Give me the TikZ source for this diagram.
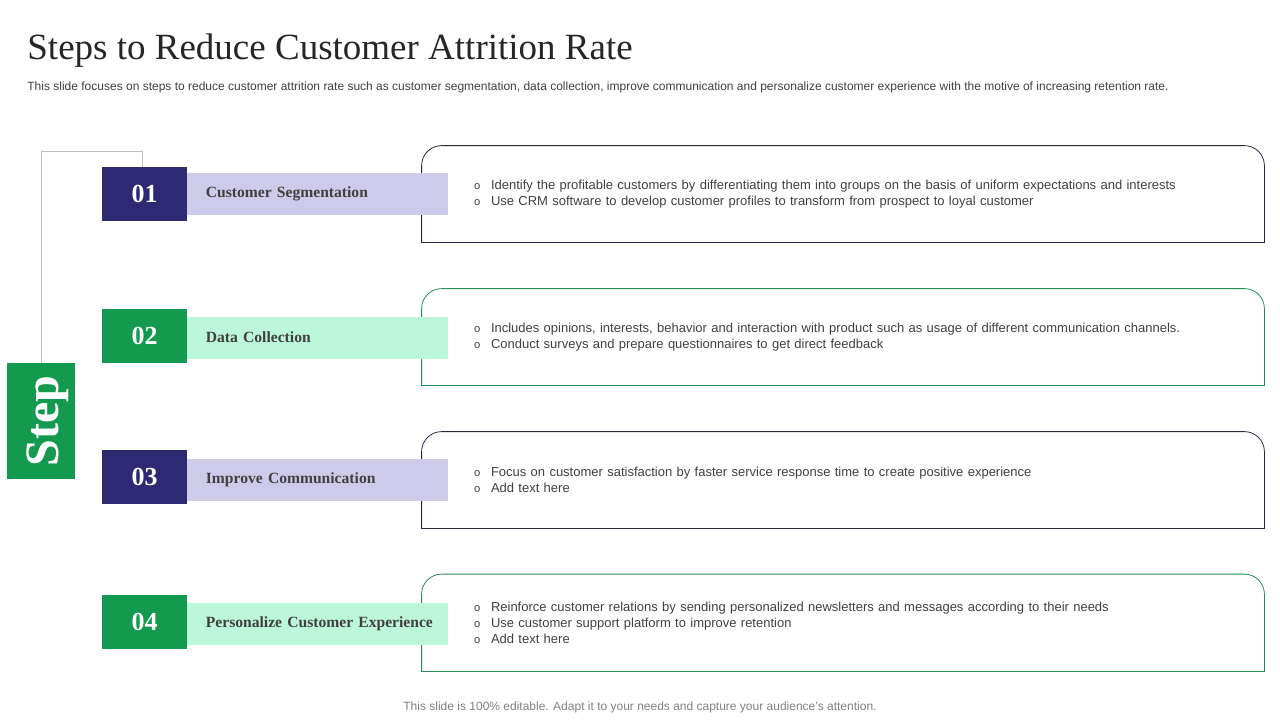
\documentclass[tikz,border=0pt]{standalone}
\usepackage{fontspec}
\setmainfont{Liberation Serif}
\setsansfont{Liberation Sans}
\definecolor{navy}{RGB}{46,41,115}
\definecolor{stepgreen}{RGB}{20,154,78}
\definecolor{lavender}{RGB}{205,202,234}
\definecolor{mint}{RGB}{189,247,217}
\definecolor{darktext}{RGB}{64,64,64}
\definecolor{navyline}{RGB}{40,38,70}
\definecolor{greenline}{RGB}{38,140,90}
\newcommand{\bul}{\makebox[8.5pt][l]{\fontsize{5.6}{5.6}\selectfont o}}

\begin{document}
\begin{tikzpicture}[x=0.5pt,y=-0.5pt,
	num/.style={minimum width=42.5pt, minimum height=27pt, inner sep=0pt, text=white, font=\fontsize{13}{13}\selectfont\bfseries},
	bar/.style={anchor=west, minimum height=21pt, inner xsep=9.25pt, inner ysep=0pt, text width=112pt, align=left, text=darktext, font=\fontsize{7.8}{9}\selectfont\bfseries},
	card/.style={minimum width=421pt, minimum height=48pt, inner xsep=26pt, inner ysep=0pt, text width=369pt, align=left, text=darktext, font=\sffamily\fontsize{6.5}{8}\selectfont},
	]
	\useasboundingbox (0,0) rectangle (1280,720);
	
	\node[anchor=base west, inner sep=0pt, text=black!85, font=\fontsize{18.5}{20}\selectfont] at (27,59) (title) {Steps to Reduce Customer Attrition Rate};
	\node[anchor=base west, inner sep=0pt, text=darktext, font=\sffamily\fontsize{6}{6}\selectfont] at (27,90) (subtitle) {This slide focuses on steps to reduce customer attrition rate such as customer segmentation, data collection, improve communication and personalize customer experience with the motive of increasing retention rate.};
	
	\node[fill=stepgreen, minimum width=34pt, minimum height=58pt, inner sep=0pt, text=white, font=\fontsize{24}{24}\selectfont\bfseries] at (41,421) (step) {\hspace*{7pt}\rotatebox{90}{Step}};
	
	\node[card] at (843,194) (card1) {\bul Identify the profitable customers by differentiating them into groups on the basis of uniform expectations and interests\\ \bul Use CRM software to develop customer profiles to transform from prospect to loyal customer};
	\node[card] at (843,337) (card2) {\bul Includes opinions, interests, behavior and interaction with product such as usage of different communication channels.\\ \bul Conduct surveys and prepare questionnaires to get direct feedback};
	\node[card] at (843,480) (card3) {\bul Focus on customer satisfaction by faster service response time to create positive experience\\ \bul Add text here};
	\node[card] at (843,622.5) (card4) {\bul Reinforce customer relations by sending personalized newsletters and messages according to their needs\\ \bul Use customer support platform to improve retention\\ \bul Add text here};
	
	\draw[navyline, rounded corners=10pt] (card1.south west) -- (card1.north west) -- (card1.north east) -- (card1.south east);
	\draw[navyline, line cap=rect] (card1.south west) -- (card1.south east);
	\draw[greenline, rounded corners=10pt] (card2.south west) -- (card2.north west) -- (card2.north east) -- (card2.south east);
	\draw[greenline, line cap=rect] (card2.south west) -- (card2.south east);
	\draw[navyline, rounded corners=10pt] (card3.south west) -- (card3.north west) -- (card3.north east) -- (card3.south east);
	\draw[navyline, line cap=rect] (card3.south west) -- (card3.south east);
	\draw[greenline, rounded corners=10pt] (card4.south west) -- (card4.north west) -- (card4.north east) -- (card4.south east);
	\draw[greenline, line cap=rect] (card4.south west) -- (card4.south east);
	
	\node[num, fill=navy] at (144.5,194) (num1) {01};
	\node[num, fill=stepgreen] at (144.5,335.5) (num2) {02};
	\node[num, fill=navy] at (144.5,477) (num3) {03};
	\node[num, fill=stepgreen] at (144.5,621.5) (num4) {04};
	
	\node[bar, fill=lavender] at (187,194) (bar1) {Customer Segmentation};
	\node[bar, fill=mint] at (187,337.5) (bar2) {Data Collection};
	\node[bar, fill=lavender] at (187,479.5) (bar3) {Improve Communication};
	\node[bar, fill=mint] at (187,623.5) (bar4) {\mbox{Personalize Customer Experience}};
	
	\draw[black!25] (step.north) |- ([xshift=-1.25pt, yshift=7.5pt]num1.north) -- ([xshift=-1.25pt]num1.north);
	
	\node[text=black!50, font=\sffamily\fontsize{6}{6}\selectfont] at (640,707) (footer) {This slide is 100\% editable. Adapt it to your needs and capture your audience's attention.};
	
\end{tikzpicture}
\end{document}
